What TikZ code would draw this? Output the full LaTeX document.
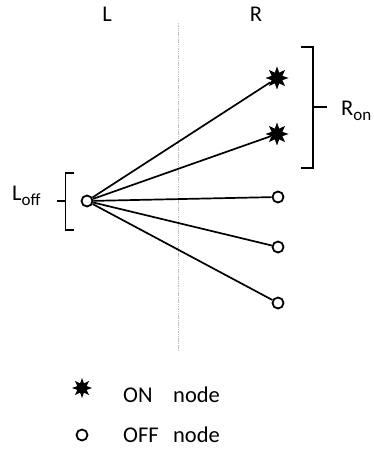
\documentclass[tikz,border=0pt]{standalone}
\usepackage{fontspec}
\setmainfont{Carlito}
\usetikzlibrary{shapes.geometric}
\begin{document}
\begin{tikzpicture}[x=1pt,y=-1pt,
  lbl/.style={inner sep=0pt,font=\fontsize{22.5}{26}\selectfont},
  offnode/.style={circle,draw,line width=1.8pt,fill=white,minimum size=11pt,inner sep=0pt},
  onnode/.style={star,star points=8,star point ratio=2.0,fill=black,minimum size=23pt,inner sep=0pt},
  edge/.style={line width=1.7pt},
  brace/.style={line width=1.7pt},
  divider/.style={gray!50,line width=1pt,dash pattern=on 1.5pt off 0.8pt}]
\useasboundingbox (0,0) rectangle (374,449);
% column titles
\node[lbl,anchor=base] (tL) at (107,22) {L};
\node[lbl,anchor=base] (tR) at (256,22) {R};
% divider
\coordinate (dtop) at (178.5,23);
\coordinate (dbot) at (178.5,350);
\draw[divider] (dtop) -- (dbot);
% nodes
\node[offnode] (l) at (87,201) {};
\node[onnode] (r1) at (277,78) {};
\node[onnode] (r2) at (277,134) {};
\node[offnode] (r3) at (278,197) {};
\node[offnode] (r4) at (278,247) {};
\node[offnode] (r5) at (278,303) {};
% edges
\foreach \r in {r1,r2,r3,r4,r5} \draw[edge] (l) -- (\r);
% left bracket
\draw[brace] (74,173) -- (65.5,173) -- (65.5,230) -- (74,230);
\draw[brace] (65.5,201) -- (57,201);
\node[lbl,anchor=base west] (loff) at (12,200) {L\raisebox{-5pt}{\fontsize{17}{17}\selectfont off}};
% right bracket
\draw[brace] (301,47) -- (313,47) -- (313,168) -- (301,168);
\draw[brace] (313,107) -- (327,107);
\node[lbl,anchor=base west] (ron) at (341,116) {R\raisebox{-5pt}{\fontsize{17}{17}\selectfont on}};
% legend
\node[onnode,minimum size=20pt] (kon) at (82,388) {};
\node[offnode] (koff) at (82,435) {};
\node[lbl,anchor=base west] (ton) at (123,402) {\makebox[50pt][l]{ON}node};
\node[lbl,anchor=base west] (toff) at (123,442) {\makebox[50pt][l]{OFF}node};
\end{tikzpicture}
\end{document}
